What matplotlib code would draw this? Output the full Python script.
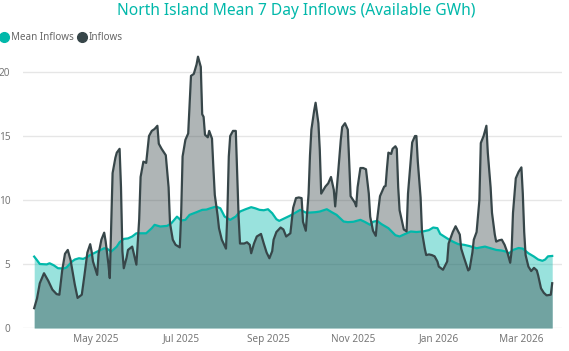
import pandas as pd
import numpy as np
import matplotlib
matplotlib.use("Agg")
import matplotlib.pyplot as plt
import matplotlib.dates as mdates
from matplotlib.lines import Line2D

plt.rcParams['font.family'] = ['Noto Sans', 'DejaVu Sans']

# Daily series, given as days since the first date in the chart
start = pd.Timestamp("2025-03-18")

inflow_day = [0, 2, 4, 7, 10, 13, 16, 18, 20, 22, 24, 26, 29, 31, 34, 36, 38, 40, 41, 42,
              45, 46, 48, 50, 51, 53, 54, 55, 56, 58, 59, 61, 62, 63, 64, 66, 67, 70, 71, 73,
              75, 76, 78, 80, 82, 84, 86, 88, 89, 91, 94, 96, 97, 99, 101, 104, 105, 106, 108, 110,
              112, 114, 116, 117, 119, 120, 121, 122, 124, 125, 127, 128, 129, 131, 132, 134, 137, 138, 139, 140,
              142, 144, 145, 146, 147, 150, 152, 154, 155, 157, 159, 162, 164, 166, 168, 170, 171, 173, 176, 178,
              180, 183, 185, 187, 189, 191, 192, 194, 196, 197, 198, 200, 201, 203, 204, 205, 208, 210, 212, 214,
              215, 217, 219, 220, 222, 224, 225, 226, 229, 230, 231, 233, 235, 237, 239, 240, 242, 244, 245, 247,
              250, 251, 252, 253, 255, 256, 258, 259, 260, 261, 264, 266, 267, 269, 270, 272, 273, 274, 276, 277,
              279, 280, 282, 284, 286, 288, 289, 292, 295, 296, 299, 301, 304, 305, 307, 310, 311, 313, 314, 316,
              318, 319, 321, 323, 324, 326, 327, 329, 330, 332, 334, 336, 338, 340, 341, 342, 344, 346, 348, 349,
              350, 351, 353, 355, 357, 359, 360, 362, 364, 366, 369, 370]
inflow_val = [1.55, 2.3, 3.5, 4.28, 3.7, 3.0, 2.65, 2.6, 4.5, 5.8, 6.1, 5.3, 3.4, 2.35, 2.6, 4.2, 5.9, 6.55, 6.0, 5.2,
              4.15, 5.8, 6.9, 7.45, 6.8, 5.0, 3.9, 8.0, 12.1, 13.3, 13.7, 14.0, 11.0, 6.0, 4.67, 5.5, 6.1, 6.36, 5.9, 4.95,
              8.5, 11.8, 13.0, 12.9, 15.0, 15.4, 15.55, 15.8, 14.4, 14.0, 13.5, 11.0, 8.2, 6.9, 6.5, 6.3, 9.0, 13.4, 14.7, 15.2,
              19.7, 19.85, 20.6, 21.2, 20.4, 16.7, 16.5, 15.1, 14.9, 15.4, 14.8, 12.5, 10.4, 8.8, 7.8, 6.9, 6.2, 9.0, 13.4, 15.0,
              15.4, 15.4, 12.0, 8.7, 6.6, 6.6, 6.7, 6.5, 5.84, 6.6, 7.15, 7.35, 6.6, 5.9, 5.45, 6.0, 6.9, 7.5, 7.85, 7.7,
              7.15, 7.4, 9.4, 10.15, 10.2, 10.15, 8.3, 7.6, 10.5, 13.5, 15.5, 17.0, 17.6, 16.0, 13.9, 10.5, 11.05, 11.3, 11.8, 10.8,
              9.5, 12.0, 14.7, 15.7, 16.0, 15.5, 13.0, 10.3, 9.8, 9.5, 11.0, 12.5, 12.5, 12.4, 10.5, 8.7, 7.6, 7.2, 8.5, 10.3,
              11.05, 11.1, 12.5, 13.7, 13.6, 14.0, 14.2, 14.0, 11.0, 9.2, 7.7, 7.55, 10.5, 13.2, 14.5, 15.0, 15.0, 13.0, 10.2, 7.5,
              6.2, 5.7, 5.75, 5.7, 5.6, 5.2, 4.8, 4.55, 5.2, 6.6, 7.5, 7.95, 7.3, 6.2, 5.5, 4.5, 4.6, 5.9, 6.9, 7.5,
              10.0, 14.45, 15.0, 15.8, 13.7, 11.0, 9.0, 7.3, 6.75, 6.85, 6.9, 6.5, 5.9, 5.1, 6.0, 9.0, 11.7, 12.2, 12.55, 10.5,
              7.5, 5.7, 4.8, 4.45, 4.7, 4.5, 4.1, 3.1, 2.75, 2.55, 2.6, 3.5]

mean_day = [0, 2, 4, 9, 11, 14, 17, 21, 23, 27, 29, 32, 35, 38, 40, 45, 50, 52, 55, 59,
            61, 64, 67, 70, 73, 80, 84, 86, 90, 95, 98, 102, 105, 108, 111, 116, 120, 123, 126, 130,
            133, 136, 140, 144, 147, 151, 155, 158, 161, 164, 167, 170, 173, 175, 179, 183, 186, 190, 194, 197,
            201, 204, 209, 213, 216, 221, 224, 228, 233, 236, 240, 242, 245, 248, 253, 258, 261, 265, 269, 273,
            278, 282, 285, 288, 290, 295, 299, 303, 307, 311, 316, 319, 322, 326, 330, 334, 337, 339, 342, 346,
            349, 353, 357, 360, 363, 365, 367, 370]
mean_val = [5.58, 5.3, 5.0, 4.97, 5.06, 4.9, 4.67, 4.65, 4.72, 5.19, 5.35, 5.45, 5.4, 5.55, 5.7, 5.97, 6.23, 6.2, 5.97, 6.36,
            6.7, 6.96, 7.0, 7.15, 7.4, 7.4, 7.8, 8.06, 7.93, 7.98, 8.19, 8.7, 8.4, 8.45, 8.84, 9.05, 9.23, 9.25, 9.36, 9.49,
            9.35, 8.71, 8.45, 8.71, 9.1, 9.28, 9.44, 9.35, 9.23, 9.2, 9.28, 8.97, 8.5, 8.37, 8.58, 8.79, 8.97, 9.23, 9.02, 9.02,
            9.05, 9.1, 9.28, 9.02, 8.84, 8.32, 8.27, 8.3, 8.45, 8.3, 8.06, 8.3, 8.37, 8.12, 7.8, 7.25, 7.15, 7.35, 7.54, 7.5,
            7.55, 7.65, 7.85, 7.8, 7.35, 7.0, 6.75, 6.55, 6.5, 6.4, 6.23, 6.3, 6.36, 6.23, 6.1, 6.05, 5.97, 5.82, 6.1, 6.25,
            6.2, 5.84, 5.58, 5.35, 5.25, 5.35, 5.6, 5.63]

title = "North Island Mean 7 Day Inflows (Available GWh)"
series_names = ["Mean Inflows", "Inflows"]
teal = "#01B8AA"
dark = "#374649"

inflow_dates = start + pd.to_timedelta(inflow_day, unit="D")
mean_dates = start + pd.to_timedelta(mean_day, unit="D")

fig = plt.figure(figsize=(5.69, 3.51), dpi=100)
ax = fig.add_axes([0.0404, 0.0655, 0.9473, 0.784])

ax.fill_between(mean_dates, 0, mean_val, color=teal, alpha=0.4, linewidth=0)
ax.plot(mean_dates, mean_val, color=teal, linewidth=1.6)
ax.fill_between(inflow_dates, 0, inflow_val, color=dark, alpha=0.4, linewidth=0)
ax.plot(inflow_dates, inflow_val, color=dark, linewidth=1.6)

ax.set_xlim(pd.Timestamp("2025-03-10"), pd.Timestamp("2026-03-30"))
ax.set_ylim(0, 21.5)
ax.set_yticks([0, 5, 10, 15, 20])
ax.xaxis.set_major_locator(mdates.MonthLocator(bymonth=[1, 3, 5, 7, 9, 11]))
ax.xaxis.set_major_formatter(mdates.DateFormatter("%b %Y"))

ax.grid(axis="y", color="#E6E6E6", linewidth=1)
ax.set_axisbelow(True)
for s in ax.spines.values():
    s.set_visible(False)
ax.tick_params(axis="both", length=0, labelsize=7.2, labelcolor="#777777")
ax.tick_params(axis="y", pad=9)
ax.tick_params(axis="x", pad=4)

fig.text(0.52, 0.968, title, ha="center", va="center", fontsize=11.2, color=teal)

handles = [Line2D([], [], marker="o", linestyle="none", markersize=7, color=c) for c in (teal, dark)]
fig.legend(handles, series_names, loc="center left", bbox_to_anchor=(-0.001, 0.893), ncol=2, frameon=False,
           fontsize=7.1, labelcolor="#666666", handletextpad=0.25, columnspacing=0.35, handlelength=0.9,
           borderaxespad=0, borderpad=0)

fig.savefig("out.png", dpi=100)
